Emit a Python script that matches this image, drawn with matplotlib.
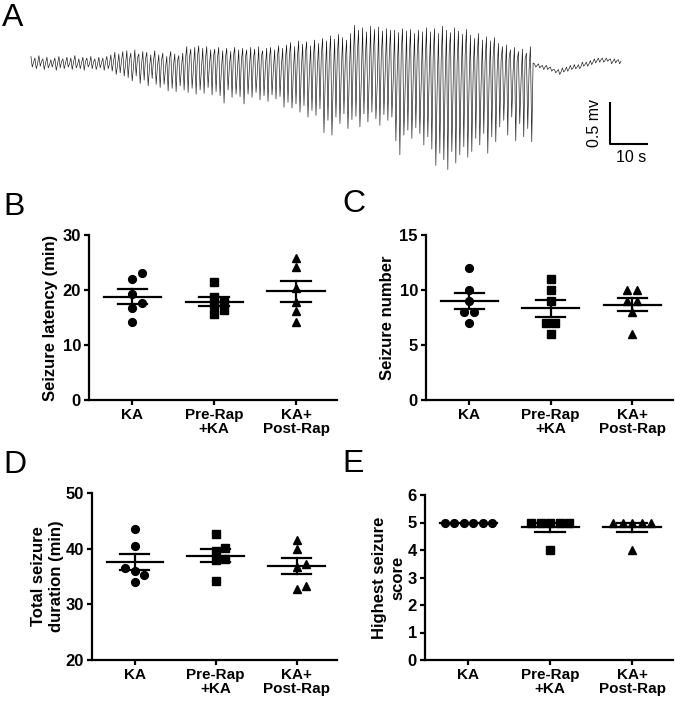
import numpy as np
import matplotlib
matplotlib.use("Agg")
import matplotlib.pyplot as plt

plt.rcParams['font.family'] = ['Liberation Sans', 'DejaVu Sans']
plt.rcParams['font.weight'] = 'bold'

# --- panel A: EEG trace, read per column as peak / trough / baseline (mV) ---
eeg_peak_mv = [
    0.08, 0.06, 0.09, 0.05, 0.07, 0.04, 0.06, 0.08, 0.05, 0.07, 0.06, 0.09, 0.05, 0.07, 0.06, 0.08, 0.05, 0.07, 0.06, 0.08,
    0.10, 0.13, 0.11, 0.14,
    0.15, 0.12, 0.16, 0.11, 0.14, 0.13, 0.10, 0.15,
    0.10, 0.12, 0.08, 0.14, 0.11, 0.09, 0.12,
    0.20, 0.17, 0.19, 0.21, 0.18, 0.20, 0.16,
    0.17, 0.19, 0.15, 0.18, 0.14, 0.19, 0.16,
    0.18, 0.16, 0.19, 0.17, 0.20, 0.15, 0.18, 0.19, 0.16, 0.21, 0.18,
    0.22, 0.25, 0.20, 0.27, 0.23, 0.26, 0.21, 0.28, 0.24,
    0.30, 0.27, 0.33, 0.29, 0.35, 0.31, 0.28, 0.36,
    0.46, 0.40, 0.43, 0.38, 0.45, 0.41, 0.44, 0.39, 0.42, 0.40,
    0.40, 0.37, 0.42, 0.39, 0.41, 0.36, 0.40, 0.38, 0.43,
    0.38, 0.42, 0.36, 0.45, 0.40, 0.37, 0.43, 0.39, 0.35, 0.41,
    0.34, 0.30, 0.36, 0.28, 0.32, 0.27, 0.31,
    0.24, 0.20, 0.22, 0.16, 0.19, 0.14, 0.17, 0.12, 0.20,
    -0.01, -0.01, -0.03, -0.03, -0.05, -0.08, -0.08, -0.06, -0.05, -0.03, -0.02,
    -0.02, 0.01, 0.01, 0.03, 0.05, 0.06, 0.06, 0.06, 0.05, 0.05, 0.04,
]
eeg_trough_mv = [
    -0.05, -0.07, -0.04, -0.08, -0.06, -0.05, -0.09, -0.06, -0.07, -0.05, -0.08, -0.06, -0.07, -0.09, -0.05, -0.07, -0.08, -0.06, -0.09, -0.07,
    -0.10, -0.14, -0.12, -0.16,
    -0.18, -0.22, -0.16, -0.25, -0.21, -0.28, -0.19, -0.26,
    -0.30, -0.26, -0.34, -0.31, -0.35, -0.28, -0.33,
    -0.36, -0.31, -0.38, -0.33, -0.37, -0.30, -0.39,
    -0.35, -0.40, -0.49, -0.33, -0.42, -0.38, -0.41,
    -0.50, -0.38, -0.42, -0.36, -0.45, -0.40, -0.47, -0.39, -0.44, -0.41, -0.54,
    -0.48, -0.55, -0.50, -0.60, -0.52, -0.66, -0.58, -0.64, -0.56,
    -0.85, -0.70, -0.88, -0.66, -0.74, -0.62, -0.80, -0.69,
    -0.65, -0.78, -0.62, -0.72, -0.60, -0.68, -0.76, -0.63, -0.70, -0.66,
    -0.95, -1.12, -0.88, -0.82, -0.92, -0.79, -0.86, -1.00, -0.90,
    -1.05, -1.25, -1.10, -1.18, -1.30, -1.08, -1.22, -1.12, -1.02, -1.15,
    -1.08, -0.92, -1.00, -0.86, -1.10, -0.90, -0.96,
    -0.78, -0.70, -0.88, -0.66, -0.95, -0.74, -0.90, -0.80, -0.96,
    -0.05, -0.06, -0.08, -0.08, -0.10, -0.12, -0.14, -0.11, -0.10, -0.08, -0.07,
    -0.07, -0.04, -0.04, -0.02, 0.00, 0.01, 0.01, 0.02, -0.01, 0.00, -0.01,
]
eeg_base_mv = [
    0.01, -0.01, 0.02, 0.00, -0.02, 0.01, -0.01, 0.02, 0.00, -0.01, 0.01, -0.02, 0.00, 0.02, -0.01, 0.01, -0.02, 0.00, 0.01, -0.01,
    0.02, -0.03, 0.03, -0.02,
    0.04, -0.05, 0.06, -0.03, 0.05, -0.06, 0.03, -0.04,
    0.03, -0.07, 0.05, -0.04, 0.02, -0.06, 0.04,
    0.06, -0.05, 0.08, -0.07, 0.04, -0.03, 0.07,
    0.05, -0.08, 0.06, -0.04, 0.07, -0.09, 0.03,
    0.06, -0.07, 0.04, -0.10, 0.08, -0.05, 0.05, -0.09, 0.07, -0.06, 0.04,
    0.08, -0.12, 0.05, -0.09, 0.10, -0.14, 0.06, -0.08, 0.09,
    -0.15, 0.05, -0.20, 0.08, -0.12, 0.02, -0.18, 0.06,
    0.10, -0.22, 0.04, -0.16, 0.12, -0.25, 0.06, -0.12, 0.08, -0.20,
    -0.10, 0.12, -0.28, 0.05, -0.18, 0.10, -0.24, 0.02, -0.14,
    0.08, -0.30, 0.04, -0.20, 0.12, -0.26, 0.02, -0.16, 0.10, -0.22,
    -0.12, 0.06, -0.24, 0.03, -0.18, 0.08, -0.10,
    0.04, -0.16, 0.06, -0.10, 0.02, -0.20, 0.05, -0.08, 0.00,
    -0.03, -0.04, -0.05, -0.06, -0.08, -0.10, -0.11, -0.09, -0.07, -0.06, -0.05,
    -0.04, -0.02, -0.01, 0.01, 0.03, 0.04, 0.03, 0.04, 0.02, 0.03, 0.02,
]
t_start = 1.6   # s
dt = 0.36       # s between samples

# --- panels B-E ---
groups = ["KA", "Pre-Rap\n+KA", "KA+\nPost-Rap"]

latency_ka = [23.1, 22.0, 19.2, 17.6, 16.7, 14.2]
latency_pre = [21.4, 18.8, 17.9, 17.3, 16.4, 15.6]
latency_post = [25.9, 24.2, 20.3, 17.8, 16.2, 14.2]

number_ka = [12, 10, 9, 8, 8, 7]
number_pre = [11, 10, 9, 7, 7, 6]
number_post = [10, 10, 9, 9, 8, 6]

duration_ka = [43.5, 40.5, 36.5, 36.0, 35.3, 34.1]
duration_pre = [42.6, 40.2, 39.5, 38.1, 38.0, 34.2]
duration_post = [41.6, 39.9, 37.2, 36.7, 33.3, 32.7]

score_ka = [5, 5, 5, 5, 5, 5]
score_pre = [5, 5, 5, 5, 5, 4]
score_post = [5, 5, 5, 5, 5, 4]

W, H = 675, 702
fig = plt.figure(figsize=(W / 100, H / 100), dpi=100)


def px_axes(l, t, r, b):
    return fig.add_axes([l / W, 1 - b / H, (r - l) / W, (b - t) / H])


# ---------- A ----------
axA = px_axes(25, 20, 660, 175)
trace = np.empty(3 * len(eeg_peak_mv))
trace[0::3] = eeg_peak_mv
trace[1::3] = eeg_trough_mv
trace[2::3] = eeg_base_mv
t = t_start + dt * np.arange(len(trace))
axA.plot(t, trace, color='#111111', lw=0.45)
axA.set_xlim(0, 635 / 3.7)
axA.set_ylim(-1.366, 0.524)
axA.axis('off')
# scale bar 10 s / 0.5 mV
sb_t, sb_v = 158.1, -0.988
axA.plot([sb_t, sb_t, sb_t + 10], [sb_v + 0.5, sb_v, sb_v], color='k', lw=1.5, clip_on=False)
axA.text(sb_t - 4.2, sb_v + 0.25, "0.5 mv", rotation=90, ha='center', va='center',
         fontsize=11.5, fontweight='normal')
axA.text(sb_t + 5.8, sb_v - 0.16, "10 s", ha='center', va='center', fontsize=11.5, fontweight='normal')


def spread(ax, vals, step_px=9.5, size_px=7.5):
    ppu = ax.bbox.height / (ax.get_ylim()[1] - ax.get_ylim()[0])
    upx = (ax.get_xlim()[1] - ax.get_xlim()[0]) / ax.bbox.width
    vals = np.asarray(vals, dtype=float)
    offs = np.zeros(len(vals))
    placed = []
    for i in np.argsort(vals, kind='stable'):
        y = vals[i] * ppu
        for k in [0, 1, -1, 2, -2, 3, -3, 4, -4]:
            x = k * step_px
            if all(np.hypot(x - px, y - py) >= size_px for px, py in placed):
                break
        placed.append((x, y))
        offs[i] = x
    for v in np.unique(vals):
        idx = np.where(vals == v)[0]
        if len(idx) > 1:
            offs[idx] -= offs[idx].mean()
    return offs * upx


markers = [('o', 5.6), ('s', 5.2), ('^', 5.4)]


def dot_panel(ax, data, ylim, yticks, ylabel, label_x):
    ax.set_xlim(-0.53, 2.5)
    ax.set_ylim(*ylim)
    for i, vals in enumerate(data):
        offs = spread(ax, vals)
        m, ms = markers[i]
        ax.plot(i + offs, vals, ls='none', marker=m, ms=ms, color='k', clip_on=False, zorder=3)
        mean = np.mean(vals)
        sem = np.std(vals, ddof=1) / np.sqrt(len(vals))
        ax.plot([i - 0.35, i + 0.35], [mean, mean], color='k', lw=1.6, zorder=4)
        if sem > 0:
            ax.plot([i, i], [mean - sem, mean + sem], color='k', lw=1.6, zorder=4)
            for s in (mean - sem, mean + sem):
                ax.plot([i - 0.18, i + 0.18], [s, s], color='k', lw=1.6, zorder=4)
    ax.set_yticks(yticks)
    ax.set_xticks(range(len(groups)))
    ax.set_xticklabels(groups, linespacing=1.0)
    for s in ['top', 'right']:
        ax.spines[s].set_visible(False)
    for s in ['left', 'bottom']:
        ax.spines[s].set_linewidth(1.6)
    ax.tick_params(axis='both', direction='out', length=3.8, width=1.6, pad=2)
    ax.tick_params(axis='y', labelsize=12)
    ax.tick_params(axis='x', labelsize=11)
    ax.set_ylabel(ylabel, fontsize=12, fontweight='bold', linespacing=1.25)
    # label_x is the right edge of the rotated label block
    ax.yaxis.set_label_coords(label_x, 0.5)


axB = px_axes(89, 235, 337, 400)
dot_panel(axB, [latency_ka, latency_pre, latency_post], (0, 30), [0, 10, 20, 30],
          "Seizure latency (min)", -0.125)
axC = px_axes(426, 235, 673, 400)
dot_panel(axC, [number_ka, number_pre, number_post], (0, 15), [0, 5, 10, 15],
          "Seizure number", -0.125)
axD = px_axes(92, 493, 337, 660)
dot_panel(axD, [duration_ka, duration_pre, duration_post], (20, 50), [20, 30, 40, 50],
          "Total seizure\nduration (min)", -0.114)
axE = px_axes(425, 495, 673, 660)
dot_panel(axE, [score_ka, score_pre, score_post], (0, 6), range(7),
          "Highest seizure\nscore", -0.08)

for letter, x, yb in [('A', 2, 26), ('B', 3, 215), ('C', 342, 212), ('D', 3, 473), ('E', 342, 472)]:
    fig.text(x / W, 1 - yb / H, letter, fontsize=23, fontweight='normal', va='baseline', ha='left')

fig.savefig("out.png", dpi=100)
